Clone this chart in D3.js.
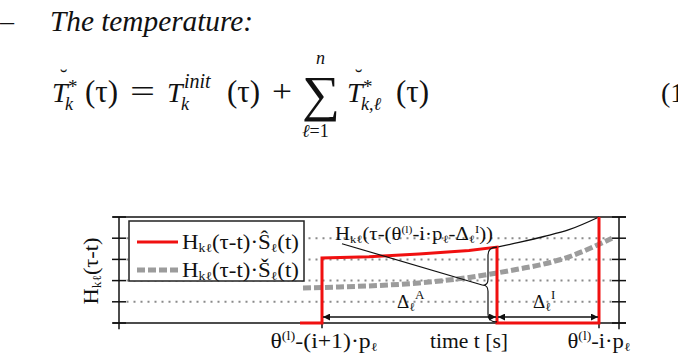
<!DOCTYPE html>
<head>
  <meta charset="utf-8" />
  <script src="https://d3js.org/d3.v7.min.js"></script>
  <style>
    body { margin: 0; background: #fff; }
    svg text { font-family: "Liberation Serif", Tinos, "Times New Roman", Times, "DejaVu Serif", serif; fill: #111; }
  </style>
</head>
<body>
<div id="chart"></div>
<script>

// ---- data (time in arbitrary units, response in arbitrary units) ----
var yTicks = [0, 1, 2, 3, 4, 5];
var gridLevels = [1, 2, 3, 4];

// red step response: H(tau-t) * S-hat(t)
var redTime  = [3.62, 4.06, 4.06, 5.0, 6.0, 7.0, 7.56, 7.56, 9.6, 9.6];
var redValue = [0, 0, 3.07, 3.12, 3.25, 3.42, 3.58, 0, 0, 5.0];

// grey dashed: H(tau-t) * S-breve(t)
var grayTime  = [3.68, 4.4, 5.0, 6.0, 7.0, 7.56, 8.0, 8.42, 9.0, 9.4, 9.86];
var grayValue = [1.65, 1.7, 1.75, 1.89, 2.15, 2.36, 2.55, 2.74, 3.12, 3.5, 4.0];

// black shifted response curve
var blackTime  = [7.56, 8.0, 8.5, 9.0, 9.6];
var blackValue = [3.58, 3.8, 4.08, 4.4, 5.0];

// interval arrows
var deltaA = [4.06, 7.56];
var deltaI = [7.56, 9.6];
var arrowLevel = 0.28;

var xTickValues = [4.06, 9.6];

// ---- svg ----
var svg = d3.select("#chart").append("svg")
  .attr("width", 678).attr("height", 358)
  .attr("font-family", "'Liberation Serif', Tinos, 'Times New Roman', serif");

var x = d3.scaleLinear().domain([0, 10]).range([119, 619]);
var y = d3.scaleLinear().domain([0, 5]).range([323, 217]);

// ---- text block above the chart ----
svg.append("text").attr("x", 0).attr("y", 30).style("font-size", "28px").text("–");
svg.append("text").attr("x", 50).attr("y", 31)
  .style("font-size", "29px").style("font-style", "italic")
  .attr("textLength", 203).attr("lengthAdjust", "spacingAndGlyphs")
  .text("The temperature:");

var f = svg.append("g");
function it(xx, yy, s, size) {
  return f.append("text").attr("x", xx).attr("y", yy)
    .style("font-style", "italic").style("font-size", (size || 28) + "px").text(s);
}
function rm(xx, yy, s, size, len) {
  var t = f.append("text").attr("x", xx).attr("y", yy)
    .style("font-size", (size || 28) + "px").text(s);
  if (len) t.attr("textLength", len).attr("lengthAdjust", "spacingAndGlyphs");
  return t;
}
it(52, 102, "T");
rm(60, 84, "˘", 22);
rm(68, 93, "*", 19);
it(65, 110, "k", 18);
rm(85, 102, "(τ)", 31);
rm(130, 102, "=", 32, 25);
it(167, 102, "T");
it(184, 88, "init", 20);
it(181, 110, "k", 18);
rm(227, 102, "(τ)", 31);
rm(272, 102, "+", 32, 20);
rm(302, 111, "∑", 50, 38);
it(316, 64, "n", 18);
it(302, 137, "ℓ", 18).append("tspan").style("font-style", "normal").text("=1");
it(347, 102, "T");
rm(355, 84, "˘", 22);
rm(363, 93, "*", 19);
it(361, 110, "k,ℓ", 18);
rm(396, 102, "(τ)", 31);
rm(661, 102, "(1");

// ---- chart ----
var g = svg.append("g");

// dotted grid
g.selectAll(".grid").data(gridLevels).enter().append("line")
  .attr("x1", x(0.15)).attr("x2", x(9.85))
  .attr("y1", function(d) { return y(d); }).attr("y2", function(d) { return y(d); })
  .attr("stroke", "#8a8a8a").attr("stroke-width", 2)
  .attr("stroke-dasharray", "2,5");

// frame
[0, 5].forEach(function(v) {
  g.append("line").attr("x1", x(-0.12)).attr("x2", x(10.14))
    .attr("y1", y(v)).attr("y2", y(v))
    .attr("stroke", "#111").attr("stroke-width", 1.5);
});
[0, 10].forEach(function(v) {
  g.append("line").attr("x1", x(v)).attr("x2", x(v))
    .attr("y1", y(5)).attr("y2", y(-0.3))
    .attr("stroke", "#111").attr("stroke-width", 1.5);
});
// y ticks on both sides
[0, 10].forEach(function(v) {
  g.selectAll(null).data(yTicks).enter().append("line")
    .attr("x1", x(v) - 7).attr("x2", x(v) + 7)
    .attr("y1", function(d) { return y(d); }).attr("y2", function(d) { return y(d); })
    .attr("stroke", "#111").attr("stroke-width", 1.5);
});
// x ticks
g.selectAll(".xt").data(xTickValues).enter().append("line")
  .attr("x1", function(d) { return x(d); }).attr("x2", function(d) { return x(d); })
  .attr("y1", y(0.2)).attr("y2", y(-0.25))
  .attr("stroke", "#111").attr("stroke-width", 1.5);

var line = d3.line().x(function(d) { return x(d[0]); }).y(function(d) { return y(d[1]); });
var lineCurve = d3.line().x(function(d) { return x(d[0]); }).y(function(d) { return y(d[1]); })
  .curve(d3.curveMonotoneX);

// grey dashed curve
g.append("path").datum(d3.zip(grayTime, grayValue))
  .attr("d", lineCurve).attr("fill", "none")
  .attr("stroke", "#9c9c9c").attr("stroke-width", 5)
  .attr("stroke-dasharray", "8,3");

// black shifted curve
g.append("path").datum(d3.zip(blackTime, blackValue))
  .attr("d", lineCurve).attr("fill", "none")
  .attr("stroke", "#111").attr("stroke-width", 1.3);

// red step curve
g.append("path").datum(d3.zip(redTime, redValue))
  .attr("d", line).attr("fill", "none")
  .attr("stroke", "#f01010").attr("stroke-width", 3)
  .attr("stroke-linejoin", "miter");

// arrows
var defs = svg.append("defs");
defs.append("marker").attr("id", "ah").attr("viewBox", "0 0 10 10")
  .attr("refX", 10).attr("refY", 5).attr("markerWidth", 10).attr("markerHeight", 7)
  .attr("markerUnits", "userSpaceOnUse").attr("orient", "auto-start-reverse")
  .append("path").attr("d", "M0,0 L10,5 L0,10 z").attr("fill", "#111");

[deltaA, deltaI].forEach(function(d) {
  g.append("line")
    .attr("x1", x(d[0]) + 1).attr("x2", x(d[1]) - 1)
    .attr("y1", y(arrowLevel)).attr("y2", y(arrowLevel))
    .attr("stroke", "#111").attr("stroke-width", 1.5)
    .attr("marker-start", "url(#ah)").attr("marker-end", "url(#ah)");
});

function deltaLabel(xx, sup) {
  var t = g.append("text").attr("x", xx).attr("y", 308).style("font-size", "19px");
  t.append("tspan").text("Δ");
  t.append("tspan").attr("dy", 3).style("font-size", "12px").text("ℓ");
  t.append("tspan").attr("dy", -12).style("font-size", "13px").text(sup);
}
deltaLabel(397, "A");
deltaLabel(533, "I");

// brace
var bx = x(7.56), bt = y(3.58), bb = y(0.05), bm = y(1.78);
g.append("path")
  .attr("d", "M" + bx + "," + bt + " Q" + (bx - 9) + "," + bt + " " + (bx - 9) + "," + (bt + 8) +
    " L" + (bx - 9) + "," + (bm - 6) + " Q" + (bx - 9) + "," + bm + " " + (bx - 14) + "," + bm +
    " Q" + (bx - 9) + "," + bm + " " + (bx - 9) + "," + (bm + 6) +
    " L" + (bx - 9) + "," + (bb - 8) + " Q" + (bx - 9) + "," + bb + " " + bx + "," + bb)
  .attr("fill", "none").attr("stroke", "#111").attr("stroke-width", 1.2);

// annotation pointer
g.append("line").attr("x1", x(4.46)).attr("y1", y(3.74))
  .attr("x2", bx - 14).attr("y2", bm)
  .attr("stroke", "#111").attr("stroke-width", 1.2);

var ann = g.append("text").attr("x", 335).attr("y", 240).style("font-size", "18px")
  .attr("textLength", 158).attr("lengthAdjust", "spacingAndGlyphs");
ann.append("tspan").text("H");
ann.append("tspan").attr("dy", 3).style("font-size", "11px").text("kℓ");
ann.append("tspan").attr("dy", -3).text("(τ-(θ");
ann.append("tspan").attr("dy", -7).style("font-size", "10px").text("(l)");
ann.append("tspan").attr("dy", 7).text("-i·p");
ann.append("tspan").attr("dy", 3).style("font-size", "11px").text("ℓ");
ann.append("tspan").attr("dy", -3).text("-Δ");
ann.append("tspan").attr("dy", 3).style("font-size", "11px").text("ℓ");
ann.append("tspan").attr("dy", -10).style("font-size", "11px").text("I");
ann.append("tspan").attr("dy", 7).text("))");

// legend
var lg = g.append("g");
lg.append("rect").attr("x", 129).attr("y", 221).attr("width", 175).attr("height", 60)
  .attr("fill", "#fff").attr("stroke", "#222").attr("stroke-width", 1.5);
lg.append("line").attr("x1", 137).attr("x2", 178).attr("y1", 242).attr("y2", 242)
  .attr("stroke", "#f01010").attr("stroke-width", 3);
lg.append("line").attr("x1", 137).attr("x2", 178).attr("y1", 270).attr("y2", 270)
  .attr("stroke", "#9c9c9c").attr("stroke-width", 5).attr("stroke-dasharray", "8,3");

function legendText(yy, s) {
  var t = lg.append("text").attr("x", 182).attr("y", yy).style("font-size", "20px")
    .attr("textLength", 117).attr("lengthAdjust", "spacingAndGlyphs");
  t.append("tspan").text("H");
  t.append("tspan").attr("dy", 3).style("font-size", "12px").text("kℓ");
  t.append("tspan").attr("dy", -3).text("(τ-t)·" + s);
  t.append("tspan").attr("dy", 3).style("font-size", "12px").text("ℓ");
  t.append("tspan").attr("dy", -3).text("(t)");
}
legendText(249, "Ŝ");
legendText(277, "Š");

// y label
var yl = svg.append("text").attr("transform", "translate(98,271) rotate(-90)")
  .attr("text-anchor", "middle").style("font-size", "20px")
  .attr("textLength", 67).attr("lengthAdjust", "spacingAndGlyphs");
yl.append("tspan").text("H");
yl.append("tspan").attr("dy", 3).style("font-size", "12px").text("kℓ");
yl.append("tspan").attr("dy", -3).text("(τ-t)");

// x labels
function thetaLabel(cx, mid, len) {
  var t = svg.append("text").attr("x", cx).attr("y", 348)
    .attr("text-anchor", "middle").style("font-size", "20px")
    .attr("textLength", len).attr("lengthAdjust", "spacingAndGlyphs");
  t.append("tspan").text("θ");
  t.append("tspan").attr("dy", -8).style("font-size", "12px").text("(l)");
  t.append("tspan").attr("dy", 8).text(mid);
  t.append("tspan").attr("dy", 3).style("font-size", "12px").text("ℓ");
}
thetaLabel(x(xTickValues[0]) + 2, "-(i+1)·p", 107);
thetaLabel(x(xTickValues[1]), "-i·p", 63);
svg.append("text").attr("x", 469).attr("y", 348).attr("text-anchor", "middle")
  .style("font-size", "20px").attr("textLength", 78).attr("lengthAdjust", "spacingAndGlyphs")
  .text("time t [s]");

</script>
</body>
</html>
